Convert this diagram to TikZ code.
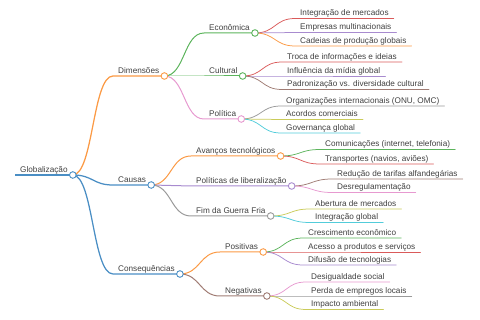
\documentclass[tikz,border=0pt]{standalone}
\usepackage{fontspec}
\setmainfont{Liberation Sans}
\usepackage{xcolor}
\usetikzlibrary{positioning}
\definecolor{cblue}{HTML}{4A8EC4}
\definecolor{corange}{HTML}{FB9A45}
\definecolor{cgreen}{HTML}{5CB45C}
\definecolor{cred}{HTML}{DA5A5A}
\definecolor{cpurple}{HTML}{A88BCF}
\definecolor{cbrown}{HTML}{A07C74}
\definecolor{cpink}{HTML}{E799D0}
\definecolor{cgray}{HTML}{9A9A9A}
\definecolor{colive}{HTML}{CACB5A}
\definecolor{ccyan}{HTML}{52CCDA}
\definecolor{txt}{HTML}{404040}

\begin{document}
\begin{tikzpicture}[
    x=1pt, y=-1pt,
    lbl/.style={anchor=south west, inner xsep=5pt, inner ysep=0pt, text depth=2.4pt, font=\fontsize{8.2}{9}\selectfont, text=txt},
    knob/.style={circle, draw=#1, fill=white, line width=0.9pt, minimum size=6.6pt, inner sep=0pt},
    link/.style={line cap=round, to path={.. controls +(20.5,0) and +(-20.5,0) .. (\tikztotarget)}},
    d0/.style={line width=1.5pt},
    d1/.style={line width=1.25pt},
    d2/.style={line width=1pt},
    d3/.style={line width=0.75pt}
]
\useasboundingbox (0,0) rectangle (480,320);

\node[lbl] (glob) at (15,175) {Globalização};
\node[lbl] (dim) at (113,76) {Dimensões};
\node[lbl] (caus) at (113,185) {Causas};
\node[lbl] (cons) at (113,274) {Consequências};
\node[lbl] (econ) at (204,33) {Econômica};
\node[lbl] (cult) at (204,76) {Cultural};
\node[lbl] (pol) at (204,119) {Política};
\node[lbl] (integ) at (295,18.5) {Integração de mercados};
\node[lbl] (multi) at (295,32.5) {Empresas multinacionais};
\node[lbl] (cadeias) at (295,46) {Cadeias de produção globais};
\node[lbl] (troca) at (282,62) {Troca de informações e ideias};
\node[lbl] (midia) at (282,76) {Influência da mídia global};
\node[lbl] (padron) at (282,89.5) {Padronização vs. diversidade cultural};
\node[lbl] (org) at (281,106) {Organizações internacionais (ONU, OMC)};
\node[lbl] (acord) at (281,119.5) {Acordos comerciais};
\node[lbl] (gov) at (281,133) {Governança global};
\node[lbl] (avanc) at (191,156) {Avanços tecnológicos};
\node[lbl] (polib) at (191,186) {Políticas de liberalização};
\node[lbl] (fim) at (191,216) {Fim da Guerra Fria};
\node[lbl] (comun) at (320,149.5) {Comunicações (internet, telefonia)};
\node[lbl] (transp) at (320,164) {Transportes (navios, aviões)};
\node[lbl] (reduc) at (332,179) {Redução de tarifas alfandegárias};
\node[lbl] (desreg) at (332,192.5) {Desregulamentação};
\node[lbl] (abert) at (310,209) {Abertura de mercados};
\node[lbl] (integl) at (310,222.5) {Integração global};
\node[lbl] (posit) at (220,252) {Positivas};
\node[lbl] (negat) at (220,296) {Negativas};
\node[lbl] (cresc) at (303,238) {Crescimento econômico};
\node[lbl] (acess) at (303,252) {Acesso a produtos e serviços};
\node[lbl] (difus) at (303,265) {Difusão de tecnologias};
\node[lbl] (desig) at (306,282) {Desigualdade social};
\node[lbl] (perda) at (306,296) {Perda de empregos locais};
\node[lbl] (impac) at (306,309.5) {Impacto ambiental};

\draw[d0, cblue] (glob.south west) -- (glob.south east);
\draw[link, d1, corange] (glob.south east) to (dim.south west) -- (dim.south east);
\draw[link, d1, cblue] (glob.south east) to (caus.south west) -- (caus.south east);
\draw[link, d1, cblue] (glob.south east) to (cons.south west) -- (cons.south east);
\draw[link, d2, cgreen] (dim.south east) to (econ.south west) -- (econ.south east);
\draw[link, d2, cgreen] (dim.south east) to (cult.south west) -- (cult.south east);
\draw[link, d2, cpink] (dim.south east) to (pol.south west) -- (pol.south east);
\draw[link, d3, cred] (econ.south east) to (integ.south west) -- (integ.south east);
\draw[link, d3, cpurple] (econ.south east) to (multi.south west) -- (multi.south east);
\draw[link, d3, corange] (econ.south east) to (cadeias.south west) -- (cadeias.south east);
\draw[link, d3, cred] (cult.south east) to (troca.south west) -- (troca.south east);
\draw[link, d3, cpurple] (cult.south east) to (midia.south west) -- (midia.south east);
\draw[link, d3, cbrown] (cult.south east) to (padron.south west) -- (padron.south east);
\draw[link, d3, cgray] (pol.south east) to (org.south west) -- (org.south east);
\draw[link, d3, colive] (pol.south east) to (acord.south west) -- (acord.south east);
\draw[link, d3, ccyan] (pol.south east) to (gov.south west) -- (gov.south east);
\draw[link, d2, corange] (caus.south east) to (avanc.south west) -- (avanc.south east);
\draw[link, d2, cpurple] (caus.south east) to (polib.south west) -- (polib.south east);
\draw[link, d2, cgray] (caus.south east) to (fim.south west) -- (fim.south east);
\draw[link, d3, cgreen] (avanc.south east) to (comun.south west) -- (comun.south east);
\draw[link, d3, cred] (avanc.south east) to (transp.south west) -- (transp.south east);
\draw[link, d3, cbrown] (polib.south east) to (reduc.south west) -- (reduc.south east);
\draw[link, d3, cpink] (polib.south east) to (desreg.south west) -- (desreg.south east);
\draw[link, d3, colive] (fim.south east) to (abert.south west) -- (abert.south east);
\draw[link, d3, ccyan] (fim.south east) to (integl.south west) -- (integl.south east);
\draw[link, d2, corange] (cons.south east) to (posit.south west) -- (posit.south east);
\draw[link, d2, cbrown] (cons.south east) to (negat.south west) -- (negat.south east);
\draw[link, d3, cgreen] (posit.south east) to (cresc.south west) -- (cresc.south east);
\draw[link, d3, cred] (posit.south east) to (acess.south west) -- (acess.south east);
\draw[link, d3, cpurple] (posit.south east) to (difus.south west) -- (difus.south east);
\draw[link, d3, cpink] (negat.south east) to (desig.south west) -- (desig.south east);
\draw[link, d3, cgray] (negat.south east) to (perda.south west) -- (perda.south east);
\draw[link, d3, colive] (negat.south east) to (impac.south west) -- (impac.south east);

\node[knob=cblue] (globk) at (glob.south east) {};
\node[knob=corange] (dimk) at (dim.south east) {};
\node[knob=cblue] (causk) at (caus.south east) {};
\node[knob=cblue] (consk) at (cons.south east) {};
\node[knob=cgreen] (econk) at (econ.south east) {};
\node[knob=cgreen] (cultk) at (cult.south east) {};
\node[knob=cpink] (polk) at (pol.south east) {};
\node[knob=corange] (avanck) at (avanc.south east) {};
\node[knob=cpurple] (polibk) at (polib.south east) {};
\node[knob=cgray] (fimk) at (fim.south east) {};
\node[knob=corange] (positk) at (posit.south east) {};
\node[knob=cbrown] (negatk) at (negat.south east) {};
\end{tikzpicture}
\end{document}
